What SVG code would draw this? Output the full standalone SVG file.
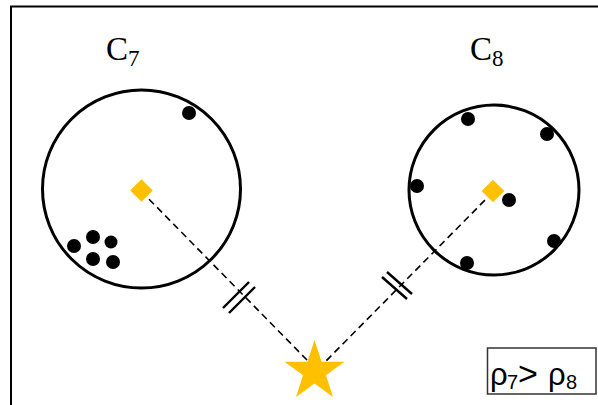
<svg xmlns="http://www.w3.org/2000/svg" width="598" height="405" viewBox="0 0 598 405">
<style>
.ring{fill:none;stroke:#000;stroke-width:3}
.dot{fill:#000}
.ctr{fill:#FFC000}
.dash{stroke:#000;stroke-width:1.6;stroke-dasharray:7,4.5;fill:none}
.brk{stroke:#000;stroke-width:2.4}
.lbl{font-family:"Liberation Serif","DejaVu Serif",serif;fill:#000}
.rho{font-family:"Liberation Sans","Open Sans",sans-serif;fill:#000}
</style>
<rect width="598" height="405" fill="#fff"/>
<path d="M11 405 V6.5 H598" fill="none" stroke="#000" stroke-width="2"/>
<g id="connectors">
<line class="dash" x1="141" y1="191" x2="307" y2="360"/>
<line class="dash" x1="493" y1="192" x2="326" y2="361"/>
<g id="break-left">
<line class="brk" x1="223" y1="308" x2="249" y2="282"/>
<line class="brk" x1="229" y1="313" x2="255" y2="287"/>
</g>
<g id="break-right">
<line class="brk" x1="382" y1="277" x2="407" y2="299"/>
<line class="brk" x1="387" y1="272" x2="412" y2="294"/>
</g>
</g>
<g id="C7">
<circle class="ring" cx="141.5" cy="189" r="99"/>
<rect class="ctr" x="-8" y="-8" width="16" height="16" transform="translate(141.5,190.5) rotate(45)"/>
<circle class="dot" cx="189" cy="113" r="7"/>
<circle class="dot" cx="74" cy="246" r="7"/>
<circle class="dot" cx="93" cy="237" r="7"/>
<circle class="dot" cx="111" cy="242" r="6.5"/>
<circle class="dot" cx="93" cy="259" r="7"/>
<circle class="dot" cx="113" cy="262" r="7"/>
<text class="lbl" x="106" y="60" font-size="33">C<tspan font-size="23" dy="6">7</tspan></text>
</g>
<g id="C8">
<circle class="ring" cx="494" cy="190" r="85"/>
<rect class="ctr" x="-8" y="-8" width="16" height="16" transform="translate(493,191) rotate(45)"/>
<circle class="dot" cx="468" cy="119" r="7"/>
<circle class="dot" cx="547" cy="134" r="7"/>
<circle class="dot" cx="417" cy="186" r="7"/>
<circle class="dot" cx="509" cy="200" r="7"/>
<circle class="dot" cx="554" cy="241" r="7"/>
<circle class="dot" cx="467" cy="263" r="7"/>
<text class="lbl" x="470" y="60" font-size="33">C<tspan font-size="23" dy="6">8</tspan></text>
</g>
<g id="star">
<polygon class="ctr" points="314.5,340 321.6,361.8 344.5,361.8 326,375.2 333,397 314.5,383.5 296,397 303,375.2 284.5,361.8 307.4,361.8"/>
</g>
<g id="legend">
<rect x="487.5" y="348" width="108.5" height="46" fill="#fff" stroke="#333" stroke-width="1.5"/>
<text class="rho" x="490" y="385" font-size="31">ρ</text>
<text class="rho" x="507" y="389" font-size="20">7</text>
<text class="rho" x="518" y="385" font-size="34">&gt;</text>
<text class="rho" x="548" y="385" font-size="31">ρ</text>
<text class="rho" x="566" y="389" font-size="20">8</text>
</g>
</svg>
